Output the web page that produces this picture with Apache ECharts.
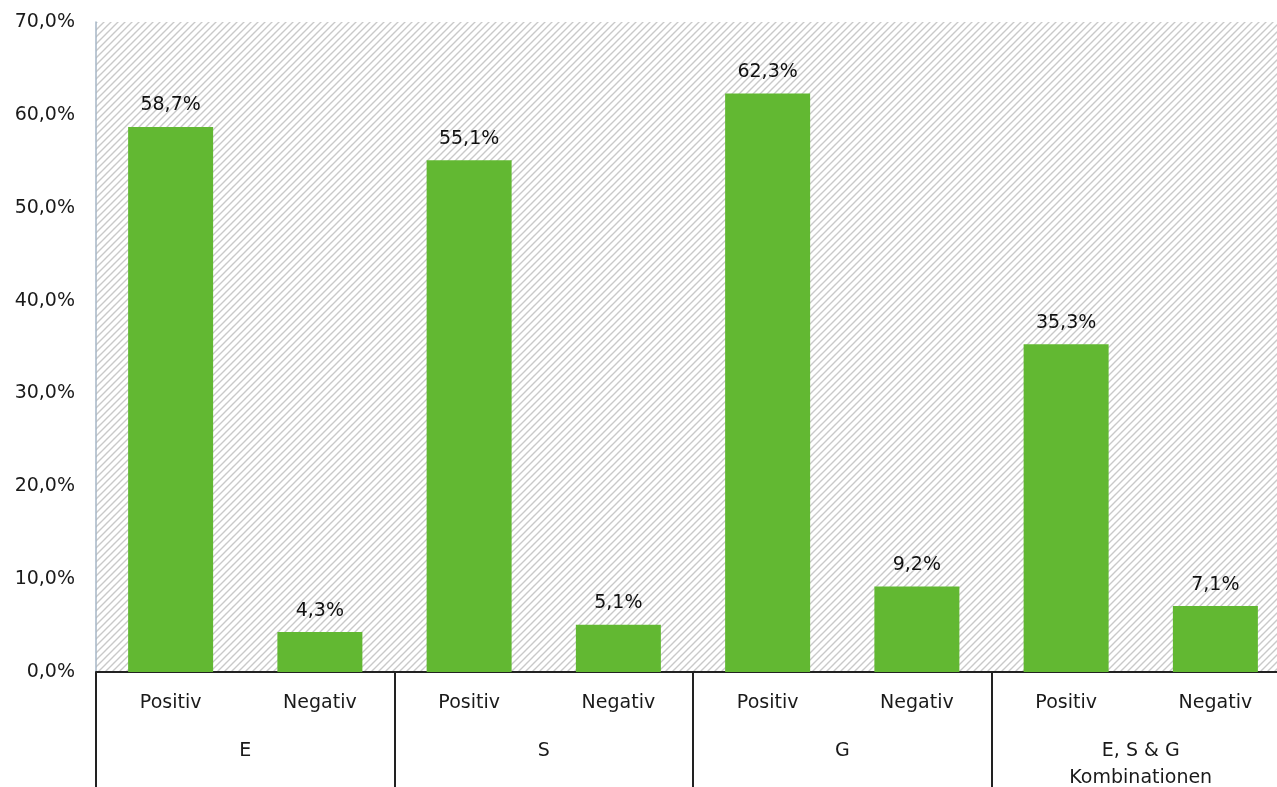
<!DOCTYPE html>
<html><head><meta charset="utf-8">
<script src="https://cdn.jsdelivr.net/npm/echarts@6/dist/echarts.min.js"></script>
<style>html,body{margin:0;padding:0;background:#fff}#c{width:1277px;height:787px}</style>
</head><body><div id="c"></div>
<script>
const groups = ['E', 'S', 'G', 'E, S & G\nKombinationen'];
const subCategories = ['Positiv','Negativ','Positiv','Negativ','Positiv','Negativ','Positiv','Negativ'];
const values = [58.7, 4.3, 55.1, 5.1, 62.3, 9.2, 35.3, 7.1];
const yTicks = [0, 10, 20, 30, 40, 50, 60, 70];

const tile = document.createElement('canvas');
tile.width = 7; tile.height = 7;
const g = tile.getContext('2d');
g.fillStyle = '#fff'; g.fillRect(0,0,7,7);
g.strokeStyle = '#c9c9c9'; g.lineWidth = 1.4;
g.beginPath();
g.moveTo(-1,8); g.lineTo(8,-1);
g.moveTo(-8,8); g.lineTo(1,-1);
g.moveTo(6,8); g.lineTo(15,-1);
g.stroke();

const fmt = v => v.toFixed(1).replace('.', ',') + '%';
const FONT = 'DejaVu Sans';
const chart = echarts.init(document.getElementById('c'));
chart.setOption({
  animation: false,
  textStyle: {fontFamily: FONT},
  grid: {left: 96, top: 22, width: 1194, bottom: 115, show: true, borderWidth: 0,
         outerBoundsMode: 'none', containLabel: false,
         backgroundColor: {image: tile, repeat: 'repeat'}},
  xAxis: [{
    type: 'category', data: subCategories, position: 'bottom',
    axisLine: {show: true, lineStyle: {color: '#222', width: 2}},
    axisTick: {show: false},
    axisLabel: {interval: 0, margin: 22, fontSize: 19, color: '#1a1a1a', fontFamily: FONT}
  }, {
    type: 'category', data: groups, position: 'bottom', offset: 0,
    axisLine: {show: false},
    axisTick: {show: true, length: 120, interval: 0, lineStyle: {color: '#222', width: 2}},
    axisLabel: {interval: 0, margin: 66, fontSize: 19, color: '#1a1a1a', lineHeight: 27,
                verticalAlign: 'top', fontFamily: FONT}
  }],
  yAxis: {
    type: 'value', min: yTicks[0], max: yTicks[yTicks.length-1], interval: 10,
    axisLine: {show: true, lineStyle: {color: '#a6b6c6', width: 1.5}},
    axisTick: {show: false},
    splitLine: {show: false},
    axisLabel: {formatter: fmt, fontSize: 19, color: '#1a1a1a', margin: 21, fontFamily: FONT}
  },
  series: [{
    type: 'bar', data: values, barWidth: 85, xAxisIndex: 0,
    itemStyle: {color: '#62b832'},
    label: {show: true, position: 'top', distance: 12, formatter: p => fmt(p.value),
            fontSize: 19, color: '#111', fontFamily: FONT}
  }]
});
</script></body></html>
